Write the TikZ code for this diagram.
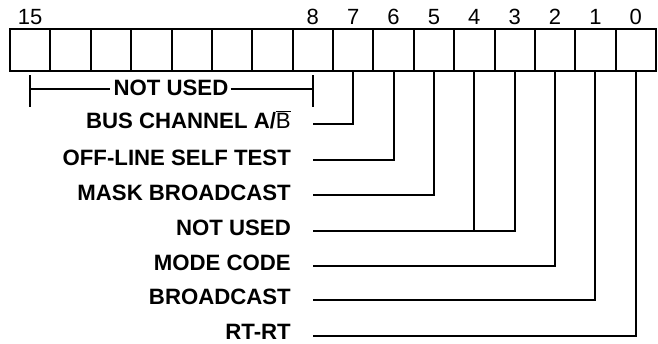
\documentclass[tikz,border=0pt]{standalone}
\usepackage{fontspec}
\setmainfont{Liberation Sans}
\begin{document}
\begin{tikzpicture}[x=1pt,y=-1pt,
  cell/.style={draw,line width=2pt,minimum width=40.375pt,minimum height=42pt,inner sep=0,outer sep=0},
  bitnum/.style={font=\fontsize{22}{22}\selectfont,inner sep=0},
  lab/.style={font=\fontsize{22.2}{22.2}\selectfont\bfseries,inner sep=0,anchor=base east},
  conn/.style={line width=2pt}]
\useasboundingbox (0,0) rectangle (658,343);
\foreach \b in {0,...,15}{
  \pgfmathsetmacro\cx{10+(15-\b+0.5)*40.375}
  \node[cell] (c\b) at (\cx,50) {};
}
\foreach \b in {15,8,7,6,5,4,3,2,1,0}{
  \node[bitnum,anchor=base] (n\b) at ([yshift=26pt]c\b.center) {\b};
}
% NOT USED bracket
\coordinate (b1) at ([yshift=-4pt]c15.south);
\coordinate (b2) at ([yshift=-4pt]c8.south);
\coordinate (b1e) at ([yshift=-36pt]c15.south);
\coordinate (b2e) at ([yshift=-36pt]c8.south);
\node[font=\fontsize{22.2}{22.2}\selectfont\bfseries,inner sep=0,anchor=base] (nu) at (171,95) {NOT USED};
\draw[conn] (b1) -- (b1e);
\draw[conn] (b2) -- (b2e);
\draw[conn] (b1 |- 0,89) -- ([xshift=-3pt]nu.west |- 0,89);
\draw[conn] ([xshift=2pt]nu.east |- 0,89) -- (b2 |- 0,89);
% labels
\node[lab] (l7) at (291,128) {BUS CHANNEL A/$\overline{\hbox{\mdseries B}}$};
\node[lab] (l6) at (291,165) {OFF-LINE SELF TEST};
\node[lab] (l5) at (291,200) {MASK BROADCAST};
\node[lab] (l4) at (291,235) {NOT USED};
\node[lab] (l2) at (291,270) {MODE CODE};
\node[lab] (l1) at (291,304.5) {BROADCAST};
\node[lab] (l0) at (291,339) {RT-RT};
\coordinate (s7) at (313,124);
\coordinate (s6) at (313,160);
\coordinate (s5) at (313,195);
\coordinate (s4) at (313,231);
\coordinate (s2) at (313,265.5);
\coordinate (s1) at (313,300);
\coordinate (s0) at (313,335.5);
\draw[conn] (s7) -| (c7.south);
\draw[conn] (s6) -| (c6.south);
\draw[conn] (s5) -| (c5.south);
\draw[conn] (s4) -| (c3.south);
\draw[conn] (c4.south) -- (c4.south |- s4);
\draw[conn] (s2) -| (c2.south);
\draw[conn] (s1) -| (c1.south);
\draw[conn] (s0) -| (c0.south);
\end{tikzpicture}
\end{document}
